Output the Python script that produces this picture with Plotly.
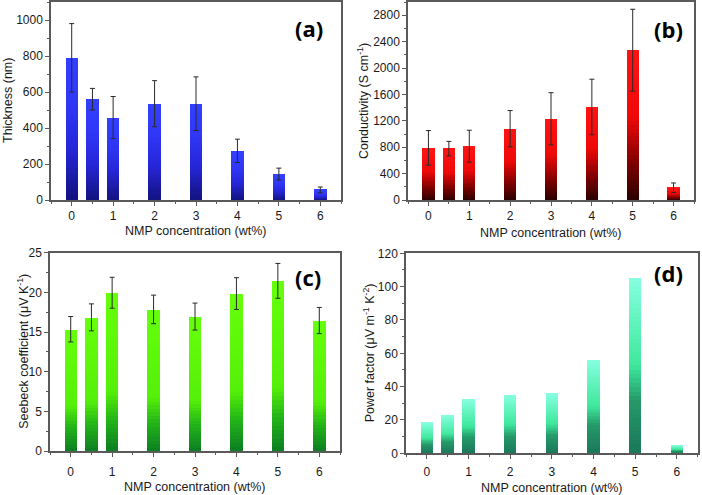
import plotly.graph_objects as go

# ---- data ----
nmp = [0, 0.5, 1, 2, 3, 4, 5, 6]
x_ticks = [0, 1, 2, 3, 4, 5, 6]

thickness = [790, 560, 458, 535, 535, 273, 144, 56]
thickness_err = [190, 60, 117, 128, 149, 65, 33, 16]

conductivity = [790, 778, 815, 1080, 1231, 1410, 2270, 186]
conductivity_err = [262, 110, 242, 275, 395, 420, 620, 72]

seebeck = [15.35, 16.85, 19.95, 17.85, 16.95, 19.85, 21.45, 16.45]
seebeck_err = [1.6, 1.7, 1.95, 1.8, 1.7, 2.0, 2.2, 1.65]

power_factor = [18.4, 22.8, 32.6, 35.0, 35.8, 56.0, 105.3, 4.8]

panel_labels = ["(a)", "(b)", "(c)", "(d)"]
y_titles = ["Thickness (nm)", "Conductivity (S cm<sup>-1</sup>)",
            "Seebeck coefficient (\u03bcV K<sup>-1</sup>)",
            "Power factor (\u03bcV m<sup>-1</sup> K<sup>-2</sup>)"]
x_title = "NMP concentration (wt%)"

# ---- styling ----
FONT = "Liberation Sans, Arial, sans-serif"
AXC = "#5a5a5a"
TXT = "#1a1a1a"
NSEG = 40

def hex2rgb(h):
    h = h.lstrip('#')
    return [int(h[i:i + 2], 16) for i in (0, 2, 4)]

def interp(stops, t):
    for (t0, c0), (t1, c1) in zip(stops[:-1], stops[1:]):
        if t <= t1:
            f = 0 if t1 == t0 else (t - t0) / (t1 - t0)
            a, b = hex2rgb(c0), hex2rgb(c1)
            return "rgb(%d,%d,%d)" % tuple(round(a[i] + (b[i] - a[i]) * f) for i in range(3))
    a = hex2rgb(stops[-1][1])
    return "rgb(%d,%d,%d)" % tuple(a)

grads = [
    [(0, "#12127e"), (0.35, "#2626d8"), (0.7, "#3038f8"), (1, "#3340ff")],
    [(0, "#2a0000"), (0.25, "#800000"), (0.55, "#ee0808"), (1, "#ff1414")],
    [(0, "#0c7e22"), (0.2, "#22b418"), (0.38, "#55f00a"), (1, "#66ff0a")],
    [(0, "#1b765a"), (0.3, "#259a6a"), (0.5, "#3fe89c"), (1, "#86ffe0")],
]

datasets = [thickness, conductivity, seebeck, power_factor]
errors = [thickness_err, conductivity_err, seebeck_err, None]

# domains in paper fraction (702 x 495 canvas)
W, H = 702, 495
boxes = [  # left, right, top, bottom in px
    (51, 341, 2, 200),
    (408, 694, 2, 200),
    (50, 340, 252.7, 451),
    (406, 697.7, 253.3, 453.3),
]
yranges = [[0, 1100], [0, 3000], [0, 25], [0, 120]]
ydticks = [200, 400, 5, 20]
ytitle_x = [8, 363, 23, 369]
xtitle_y = [231, 233, 487, 488]
label_pos = [(309, 28), (668, 29), (308, 277), (668, 273)]
tick_standoff = [0, 0, 5, 3]

fig = go.Figure()
layout = dict(width=W, height=H, margin=dict(l=0, r=0, t=0, b=0, pad=0),
              autosize=False,
              paper_bgcolor="white", plot_bgcolor="white",
              showlegend=False, barmode="stack", bargap=0,
              font=dict(family=FONT, size=12, color=TXT))
annotations = []

for p in range(4):
    sfx = "" if p == 0 else str(p + 1)
    xa, ya = "x" + sfx, "y" + sfx
    vals = datasets[p]
    for k in range(NSEG):
        t = (k + 0.5) / NSEG
        fig.add_trace(go.Bar(
            x=nmp, y=[v / NSEG for v in vals], width=0.3,
            marker=dict(color=interp(grads[p], t), line=dict(width=0)),
            xaxis=xa, yaxis=ya, hoverinfo="skip"))
    if errors[p] is not None:
        fig.add_trace(go.Scatter(
            x=nmp, y=vals, mode="markers", marker=dict(size=1, opacity=0),
            error_y=dict(type="data", array=errors[p], visible=True,
                         color="#2a2a2a", thickness=1, width=2.5),
            xaxis=xa, yaxis=ya, hoverinfo="skip"))
    l, r, t_, b = boxes[p]
    layout["xaxis" + sfx] = dict(
        domain=[l / W, r / W], range=[-0.5, 6.5], anchor=ya, automargin=False,
        tickvals=x_ticks, ticks="outside", ticklen=4, tickwidth=1, tickcolor=AXC,
        showline=True, linecolor=AXC, linewidth=1.5, mirror=True,
        showgrid=False, zeroline=False, ticklabelstandoff=tick_standoff[p],
        tickfont=dict(size=12, color=TXT),
        minor=dict(dtick=0.5, ticks="outside", ticklen=2, tickcolor=AXC))
    layout["yaxis" + sfx] = dict(
        domain=[1 - b / H, 1 - t_ / H], range=yranges[p], anchor=xa, automargin=False,
        dtick=ydticks[p], ticks="outside", ticklen=4, tickwidth=1, tickcolor=AXC,
        showline=True, linecolor=AXC, linewidth=1.5, mirror=True,
        showgrid=False, zeroline=False,
        tickfont=dict(size=12, color=TXT),
        minor=dict(dtick=ydticks[p] / 2, ticks="outside", ticklen=2, tickcolor=AXC))
    annotations.append(dict(
        text=y_titles[p], x=ytitle_x[p] / W, y=1 - ((t_ + b) / 2) / H,
        xref="paper", yref="paper", showarrow=False, textangle=-90,
        xanchor="center", yanchor="middle", font=dict(size=12.5, color=TXT)))
    annotations.append(dict(
        text=x_title, x=((l + r) / 2) / W, y=1 - xtitle_y[p] / H,
        xref="paper", yref="paper", showarrow=False,
        xanchor="center", yanchor="middle", font=dict(size=12.5, color=TXT)))
    lx, ly = label_pos[p]
    annotations.append(dict(
        text="<b>%s</b>" % panel_labels[p], x=lx / W, y=1 - ly / H,
        xref="paper", yref="paper", showarrow=False,
        xanchor="center", yanchor="middle",
        font=dict(family="Open Sans, sans-serif", size=22, color="#000")))

layout["annotations"] = annotations
fig.update_layout(**layout)
fig.write_html("out.html", config={"responsive": False, "displayModeBar": False},
               post_script="document.body.style.margin='0px';")
